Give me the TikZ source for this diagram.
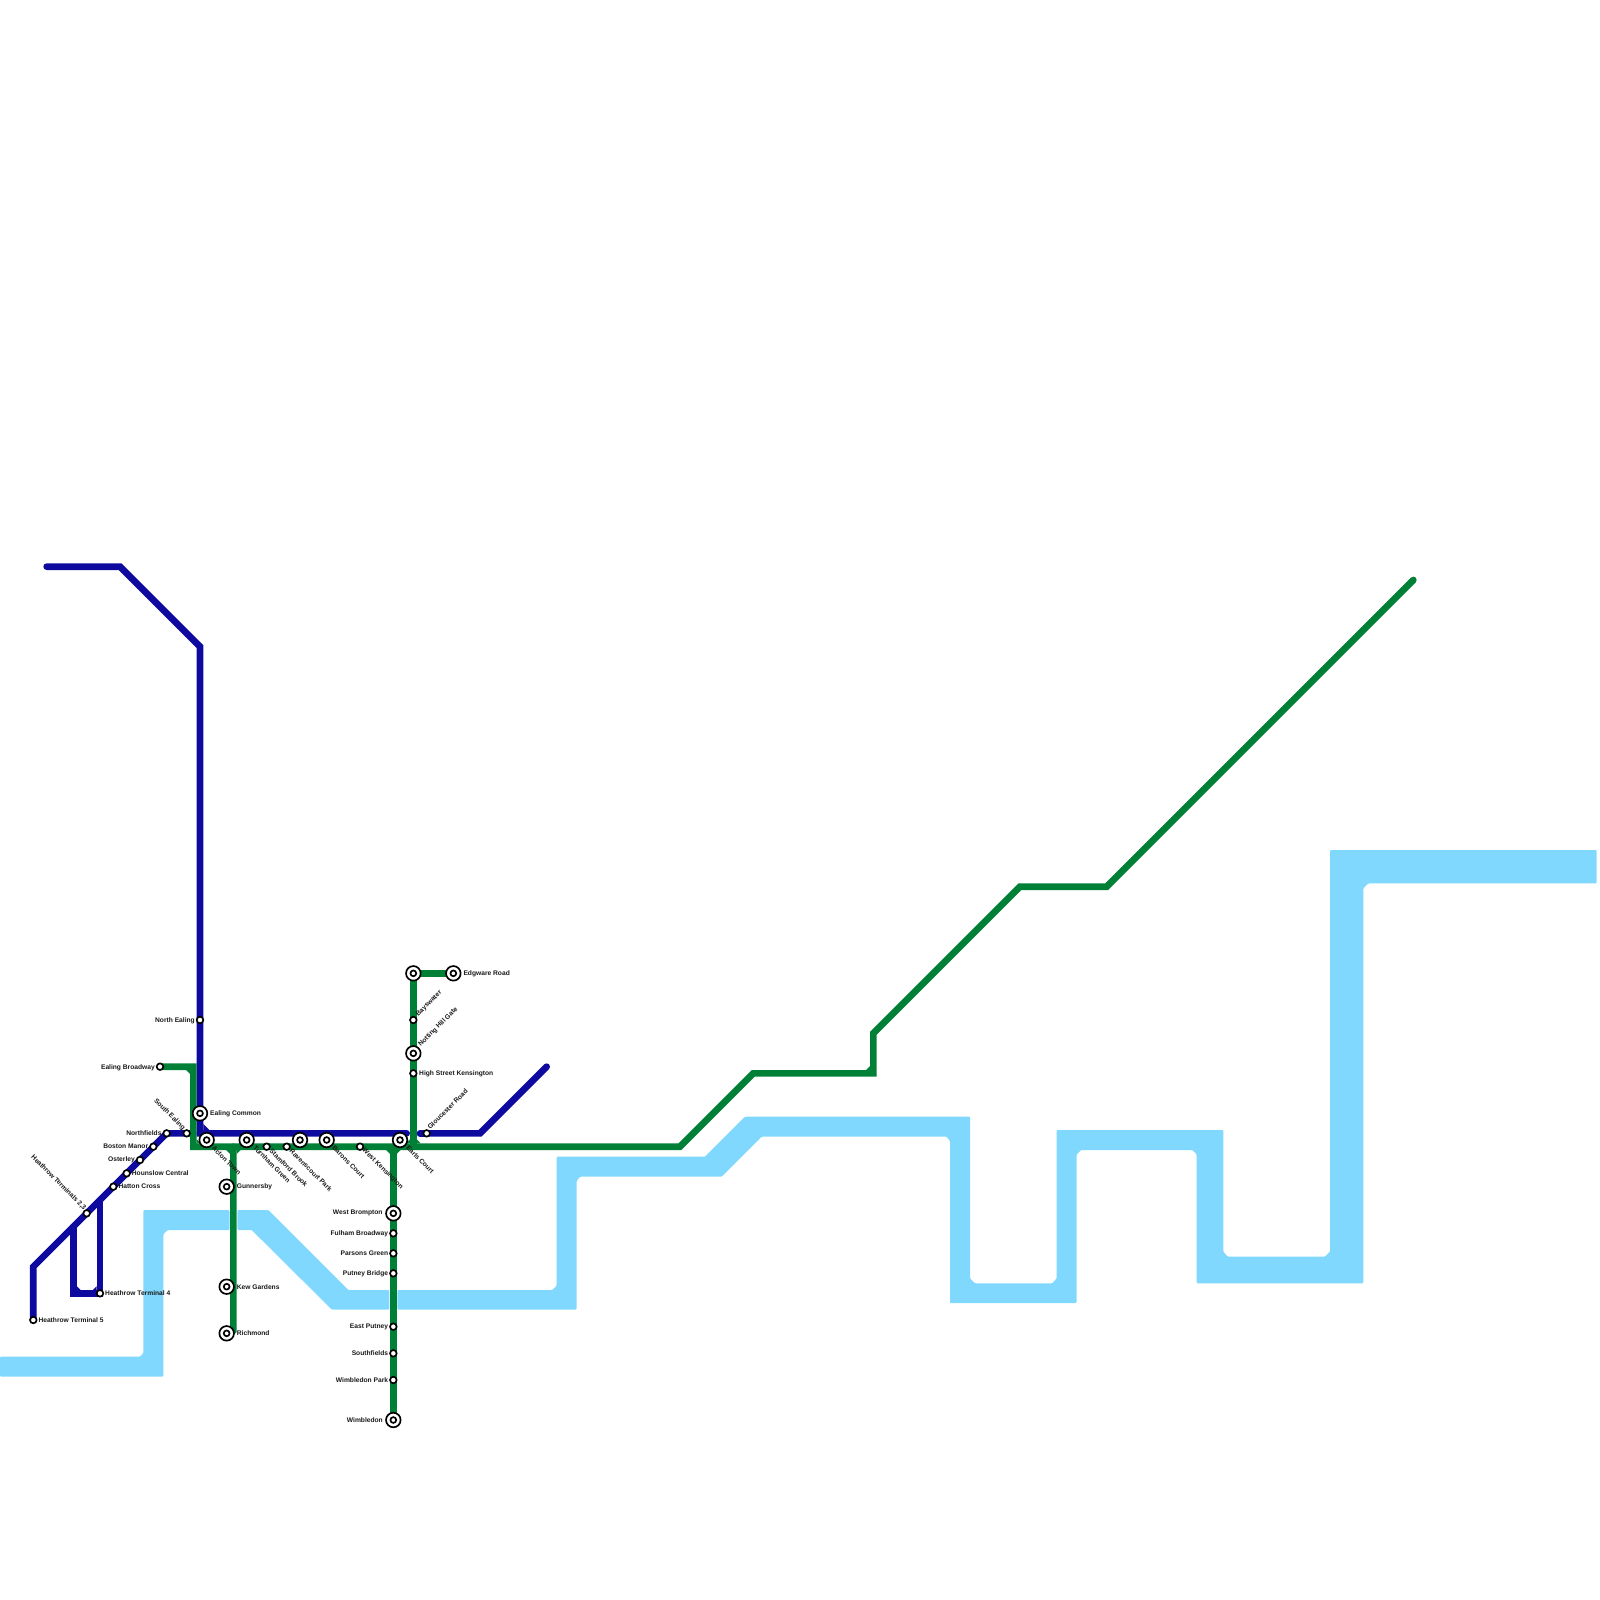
\documentclass[tikz,border=0pt]{standalone}
\usepackage{fontspec}
\setmainfont{Liberation Sans}
\pgfdeclarelayer{river}
\pgfdeclarelayer{lines}
\pgfsetlayers{river,lines,main}
\definecolor{blueline}{HTML}{0F0A9F}
\definecolor{greenline}{HTML}{007F36}
\definecolor{rivercol}{HTML}{80D8FF}
\tikzset{
  smallst/.style={circle,draw=black,fill=white,line width=1.67pt,inner sep=0pt,minimum size=6.6pt},
  bigst/.style={circle,draw=black,fill=white,line width=1.67pt,inner sep=0pt,minimum size=14.6pt,
    path picture={\draw[black,line width=1.67pt] (path picture bounding box.center) circle (2.9pt);}},
  lab/.style={font=\fontsize{6.67pt}{7pt}\selectfont\bfseries,text=black!90,inner sep=0pt},
  lef/.style={lab,anchor=east,yshift=-0.6pt},
  rig/.style={lab,anchor=west,yshift=-0.6pt},
  dn/.style={lab,anchor=west,rotate=-45},
  up/.style={lab,anchor=west,rotate=45,xshift=1pt,yshift=0.6pt},
  dnend/.style={lab,anchor=east,rotate=-45},
  riv/.style={fill=rivercol,draw=none,rounded corners=1pt},
  blueln/.style={draw=blueline,line width=6.67pt,line cap=round,line join=miter},
  greenln/.style={draw=greenline,line width=6.67pt,line cap=round,line join=miter}
}
\newcommand{\chamf}[5][4]{\fill[#2] (#3.center) ++(#4*3.3,#5*3.3) -- ++(#4*#1,0) -- ++(-#4*#1,#5*#1) -- cycle;}
\begin{document}
\begin{tikzpicture}[x=1pt,y=-1pt]
\useasboundingbox (0,0) rectangle (1600,1600);
\begin{scope}[x=6.66667pt,y=-6.66667pt]
% stations
\node[bigst] (ealcom) at (30,167) {};
\node[bigst] (acton) at (31,171) {};
\node[bigst] (turnham) at (37,171) {};
\node[bigst] (hammer) at (45,171) {};
\node[bigst] (barons) at (49,171) {};
\node[bigst] (earls) at (60,171) {};
\node[bigst] (gunn) at (34,178) {};
\node[bigst] (kew) at (34,193) {};
\node[bigst] (rich) at (34,200) {};
\node[bigst] (wbromp) at (59,182) {};
\node[bigst] (wimb) at (59,213) {};
\node[bigst] (padd) at (62,146) {};
\node[bigst] (edgw) at (68,146) {};
\node[bigst] (notting) at (62,158) {};
\node[smallst] (ealbr) at (24,160) {};
\node[smallst] (nealing) at (30,153) {};
\node[smallst] (north) at (25,170) {};
\node[smallst] (seal) at (28,170) {};
\node[smallst] (boston) at (23,172) {};
\node[smallst] (oster) at (21,174) {};
\node[smallst] (houn) at (19,176) {};
\node[smallst] (hatton) at (17,178) {};
\node[smallst] (t23) at (13,182) {};
\node[smallst] (t4) at (15,194) {};
\node[smallst] (t5) at (5,198) {};
\node[smallst] (stam) at (40,172) {};
\node[smallst] (raven) at (43,172) {};
\node[smallst] (wken) at (54,172) {};
\node[smallst] (glou) at (64,170) {};
\node[smallst] (bays) at (62,153) {};
\node[smallst] (hsk) at (62,161) {};
\node[smallst] (fulham) at (59,185) {};
\node[smallst] (parsons) at (59,188) {};
\node[smallst] (putney) at (59,191) {};
\node[smallst] (eput) at (59,199) {};
\node[smallst] (south) at (59,203) {};
\node[smallst] (wpark) at (59,207) {};
% waypoints
\coordinate (b1) at (7,85);
\coordinate (b2) at (18,85);
\coordinate (b3) at (30,97);
\coordinate (b4) at (30,170);
\coordinate (b6) at (61,170);
\coordinate (b7) at (63,170);
\coordinate (b8) at (72,170);
\coordinate (b9) at (82,160);
\coordinate (b10) at (29,170);
\coordinate (b11) at (5,190);
\coordinate (b12) at (11,184);
\coordinate (b13) at (11,194);
\coordinate (b14) at (15,180);
\coordinate (g1) at (29,160);
\coordinate (g2) at (29,172);
\coordinate (g3) at (102,172);
\coordinate (g4) at (113,161);
\coordinate (g5) at (131,161);
\coordinate (g6) at (131,155);
\coordinate (g7) at (153,133);
\coordinate (g8) at (166,133);
\coordinate (g9) at (212,87);
\coordinate (g10) at (35,172);
\coordinate (g11) at (35,199.6);
\coordinate (g14) at (34.3,200.3);
\coordinate (g12) at (59,172);
\coordinate (g13) at (62,172);
\end{scope}
% labels
\node[rig] (l1) at (210,1112.7) {Ealing Common};
\node[lef] (l2) at (155,1066.7) {Ealing Broadway};
\node[lef] (l3) at (195,1020) {North Ealing};
\node[lef] (l4) at (161.7,1132.7) {Northfields};
\node[dnend] (l5) at (184,1129) {South Ealing};
\node[lef] (l6) at (148.3,1146) {Boston Manor};
\node[lef] (l7) at (135,1159.5) {Osterley};
\node[rig] (l8) at (131.7,1172.7) {Hounslow Central};
\node[rig] (l9) at (118.3,1186) {Hatton Cross};
\node[dnend] (l10) at (85,1209) {Heathrow Terminals 2,3};
\node[rig] (l11) at (105,1292.7) {Heathrow Terminal 4};
\node[rig] (l12) at (38.3,1319.5) {Heathrow Terminal 5};
\node[dn] (l13) at (213,1147) {Acton Town};
\node[dn] (l14) at (254.3,1146.7) {Turnham Green};
\node[dn] (l15) at (270.7,1150) {Stamford Brook};
\node[dn] (l16) at (290.7,1150) {Ravenscourt Park};
\node[dn] (l17) at (333.3,1146.7) {Barons Court};
\node[dn] (l18) at (363.3,1149.3) {West Kensington};
\node[dn] (l19) at (407.3,1146.7) {Earls Court};
\node[up] (l20) at (428.3,1129.3) {Gloucester Road};
\node[up] (l21) at (416.7,1016.7) {Bayswater};
\node[up] (l22) at (419.3,1046.7) {Notting Hill Gate};
\node[rig] (l23) at (419,1072.7) {High Street Kensington};
\node[rig] (l24) at (463.3,972.7) {Edgware Road};
\node[rig] (l25) at (236.7,1186) {Gunnersby};
\node[rig] (l26) at (236.7,1286) {Kew Gardens};
\node[rig] (l27) at (236.7,1332.7) {Richmond};
\node[lef] (l28) at (382.7,1212.7) {West Brompton};
\node[lef] (l29) at (388.3,1232.7) {Fulham Broadway};
\node[lef] (l30) at (388.3,1252.7) {Parsons Green};
\node[lef] (l31) at (388.3,1272.7) {Putney Bridge};
\node[lef] (l32) at (388.3,1326) {East Putney};
\node[lef] (l33) at (388.3,1352.7) {Southfields};
\node[lef] (l34) at (388.3,1379.3) {Wimbledon Park};
\node[lef] (l35) at (383,1419.3) {Wimbledon};
\begin{pgfonlayer}{river}
\path[riv] (0,1356.7) -- (140,1356.7) -- (143.3,1353.3) -- (143.3,1210) -- (229.5,1210) -- (229.5,1230) -- (167.7,1230) -- (163.3,1234.3) -- (163.3,1376.7) -- (0,1376.7) -- cycle;
\path[riv] (237.3,1210) -- (268.3,1210) -- (348.3,1290) -- (389.3,1290) -- (389.3,1309.5) -- (331.7,1309.5) -- (251.7,1230) -- (237.3,1230) -- cycle;
\path[riv] (397.3,1290) -- (552.3,1290) -- (556.7,1285.7) -- (556.7,1156.7) -- (705,1156.7) -- (745,1116.7) -- (970,1116.7) -- (970,1278.3) -- (975,1283.3) -- (1052.3,1283.3) -- (1056.7,1278.3) -- (1056.7,1130) -- (1223.3,1130) -- (1223.3,1251.7) -- (1227.7,1256.7) -- (1325,1256.7) -- (1330,1251.7) -- (1330,850) -- (1596.7,850) -- (1596.7,883.3) -- (1368.3,883.3) -- (1363.3,888.3) -- (1363.3,1283.3) -- (1196.7,1283.3) -- (1196.7,1154.3) -- (1192.3,1150) -- (1081,1150) -- (1076.7,1154.3) -- (1076.7,1303) -- (950,1303) -- (950,1141) -- (946.7,1136.7) -- (761.7,1136.7) -- (721.7,1176.7) -- (580,1176.7) -- (576.7,1181) -- (576.7,1309.5) -- (397.3,1309.5) -- cycle;
\end{pgfonlayer}
\begin{pgfonlayer}{lines}
% blue
\draw[blueln] (b1) -- (b2) -- (b3) -- (nealing.center) -- (ealcom.center) -- (b4) -- (b6);
\draw[blueln] (glou.center) -- (b7);
\draw[blueln] (glou.center) -- (b8) -- (b9);
\draw[blueln] (b10) -- (seal.center) -- (north.center) -- (boston.center) -- (oster.center) -- (houn.center) -- (hatton.center) -- (t23.center) -- (b11) -- (t5.center);
\draw[blueln] (b12) -- (b13) -- (t4.center) -- (b14);
\chamf{blueline}{b13}{1}{-1}
\chamf{blueline}{t4}{-1}{-1}
\chamf[6]{blueline}{b4}{1}{-1}
% green
\draw[greenln] (ealbr.center) -- (g1) -- (g2) -- (g3) -- (g4) -- (g5) -- (g6) -- (g7) -- (g8) -- (g9);
\draw[greenln] (g10) -- (g11) -- (g14);
\draw[greenln] (g12) -- (wbromp.center) -- (wimb.center);
\draw[greenln] (edgw.center) -- (padd.center) -- (g13);
\chamf{greenline}{g1}{-1}{1}
\chamf{greenline}{g2}{1}{-1}
\chamf{greenline}{g10}{-1}{1}
\chamf{greenline}{g10}{1}{1}
\chamf{greenline}{g12}{-1}{1}
\chamf{greenline}{g12}{1}{1}
\chamf{greenline}{g13}{1}{-1}
\chamf{greenline}{g13}{-1}{-1}
\chamf{greenline}{g5}{-1}{-1}
\end{pgfonlayer}
\end{tikzpicture}
\end{document}
